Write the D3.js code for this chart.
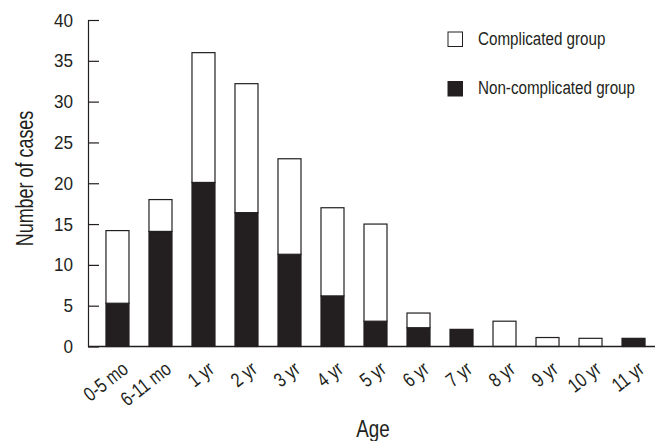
<!DOCTYPE html>
<html>
<head>
<meta charset="utf-8">
<script src="https://cdn.jsdelivr.net/npm/d3@7"></script>
<style>
  body { margin: 0; background: #fff; }
  text { font-family: "Liberation Sans", Arial, sans-serif; fill: #231f20; }
</style>
</head>
<body>
<div class="chart"></div>
<script>
// data
var ages = ["0-5 mo", "6-11 mo", "1 yr", "2 yr", "3 yr", "4 yr", "5 yr", "6 yr", "7 yr", "8 yr", "9 yr", "10 yr", "11 yr"];
var nonComplicated = [5.3, 14.1, 20.1, 16.4, 11.3, 6.2, 3.1, 2.3, 2.1, 0, 0, 0, 1];
var complicated = [8.9, 3.9, 15.9, 15.8, 11.7, 10.8, 11.9, 1.8, 0, 3.1, 1.1, 1, 0];
var yTicks = [0, 5, 10, 15, 20, 25, 30, 35, 40];
var seriesNames = ["Complicated group", "Non-complicated group"];

var svgWidth = 655;
var svgHeight = 441;
var ink = "#231f20";

var svg = d3.select(".chart")
  .append("svg")
  .attr("width", svgWidth)
  .attr("height", svgHeight);

//no condensed font installed, so squeeze the glyphs horizontally
function condense(sel, factor) {
  sel.each(function () {
    var w = this.getComputedTextLength();
    d3.select(this)
      .attr("textLength", w * factor)
      .attr("lengthAdjust", "spacingAndGlyphs");
  });
}

//scales
var x = d3.scaleBand()
  .domain(ages)
  .range([96, 655])
  .paddingInner(0.465)
  .paddingOuter(0.232);

var y = d3.scaleLinear()
  .domain([0, 40])
  .range([346.5, 20]);

//stack the two groups, non-complicated at the bottom
var table = ages.map(function (a, i) {
  return { age: a, non: nonComplicated[i], comp: complicated[i] };
});
var stacked = d3.stack().keys(["non", "comp"])(table);

var fills = { non: ink, comp: "#fff" };

svg.append("g")
  .selectAll("g")
  .data(stacked)
  .enter()
  .append("g")
  .attr("fill", d => fills[d.key])
  .selectAll("rect")
  .data(d => d.filter(p => p[1] - p[0] > 0))
  .enter()
  .append("rect")
  .attr("x", d => x(d.data.age))
  .attr("y", d => y(d[1]))
  .attr("width", x.bandwidth())
  .attr("height", d => y(d[0]) - y(d[1]))
  .attr("stroke", ink)
  .attr("stroke-width", 1.2);

//y axis, ticks pointing inward
var yAxis = svg.append("g")
  .attr("transform", "translate(88,0)")
  .call(d3.axisLeft(y).tickValues(yTicks).tickSizeInner(-11).tickSizeOuter(0).tickPadding(15));

yAxis.select(".domain").attr("stroke", ink).attr("stroke-width", 1.2);
yAxis.selectAll(".tick line").attr("stroke", ink).attr("stroke-width", 1.2);
yAxis.selectAll(".tick text")
  .attr("font-size", 19)
  .attr("fill", ink)
  .call(condense, 0.9);

//x axis
var xAxis = svg.append("g")
  .attr("transform", `translate(0, ${y(0)})`)
  .call(d3.axisBottom(x).tickSize(0));

xAxis.select(".domain").remove();
xAxis.append("line")
  .attr("x1", 88)
  .attr("x2", 655)
  .attr("stroke", ink)
  .attr("stroke-width", 1.4);

xAxis.selectAll(".tick text")
  .attr("font-size", 20)
  .attr("fill", ink)
  .attr("text-anchor", "end")
  .attr("dy", null)
  .attr("y", null)
  .attr("transform", "translate(12, 25) rotate(-38)")
  .call(condense, 0.8);

//axis titles
svg.append("text")
  .attr("transform", "translate(33, 178.5) rotate(-90)")
  .attr("text-anchor", "middle")
  .attr("font-size", 23)
  .text("Number of cases")
  .call(condense, 0.78);

svg.append("text")
  .attr("x", 373)
  .attr("y", 437)
  .attr("text-anchor", "middle")
  .attr("font-size", 23.5)
  .text("Age")
  .call(condense, 0.8);

//legend
var legend = svg.append("g")
  .selectAll("g")
  .data(seriesNames)
  .enter()
  .append("g")
  .attr("transform", (d, i) => `translate(448, ${32 + i * 49.5})`);

legend.append("rect")
  .attr("width", 14.5)
  .attr("height", 14.5)
  .attr("fill", (d, i) => i === 0 ? "#fff" : ink)
  .attr("stroke", ink)
  .attr("stroke-width", 1);

//legend labels squeezed with a transform so their box stays true
legend.append("text")
  .attr("transform", "translate(30, 12.5) scale(0.8, 1)")
  .attr("font-size", 19)
  .text(d => d);
</script>
</body>
</html>
